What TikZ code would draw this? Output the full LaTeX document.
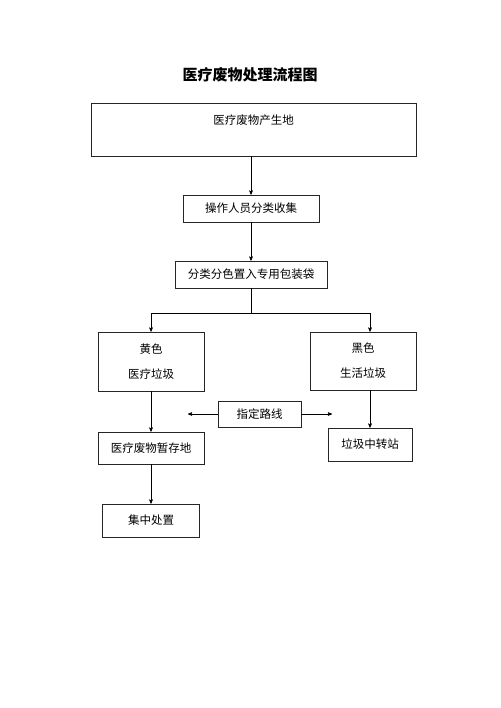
\documentclass[tikz,border=0pt]{standalone}
\usepackage{fontspec}
\newfontfamily\cjk{Noto Sans CJK SC}
\usetikzlibrary{arrows}

\tikzset{box/.style={draw=black!85,-,inner sep=0pt,align=center,
                     font=\cjk\fontsize{11.5}{14}\selectfont}}

\begin{document}
\begin{tikzpicture}[->,>=stealth',semithick,x=1pt,y=-1pt]
  \useasboundingbox (0,0) rectangle (500,708);
  \node[font=\cjk\bfseries\fontsize{15}{18}\selectfont] (title) at (250,75) {医疗废物处理流程图};

  \node[box, minimum width=325pt, text height=22pt, text depth=31pt] (source) at (253.5,129.5) {医疗废物产生地};
  \node[box, minimum width=136pt, minimum height=27pt] (collect) at (251,208.5) {操作人员分类收集};
  \node[box, minimum width=152pt, minimum height=27pt] (pack) at (251,274.5) {分类分色置入专用包装袋};
  \node[box, minimum width=106pt, minimum height=59pt] (yellow) at (151,361.5) {黄色\\[11pt]医疗垃圾};
  \node[box, minimum width=106pt, minimum height=58pt] (black) at (363,361) {黑色\\[11pt]生活垃圾};
  \node[box, minimum width=83pt, minimum height=26pt] (route) at (259.5,414) {指定路线};
  \node[box, minimum width=106pt, minimum height=32pt] (storage) at (151,448) {医疗废物暂存地};
  \node[box, minimum width=97pt, minimum height=33pt] (central) at (151,520.5) {集中处置};
  \node[box, minimum width=84pt, minimum height=33pt] (transfer) at (370,444.5) {垃圾中转站};

  \coordinate (splitL) at (151,313);
  \coordinate (splitR) at (370,313);
  \coordinate (routeL) at (188,414);
  \coordinate (routeR) at (332,414);

  \draw[-] (pack.south) -- (pack.south |- splitL);
  \draw[-] (splitL) -- (splitR);
  \path (collect.north |- source.south) edge (collect.north)
        (collect) edge (pack)
        (splitL) edge (yellow.north)
        (splitR) edge (splitR |- black.north)
        (yellow) edge (storage)
        (storage) edge (central)
        (transfer.north |- black.south) edge (transfer)
        (route) edge (routeL)
        (route) edge (routeR);
\end{tikzpicture}
\end{document}
